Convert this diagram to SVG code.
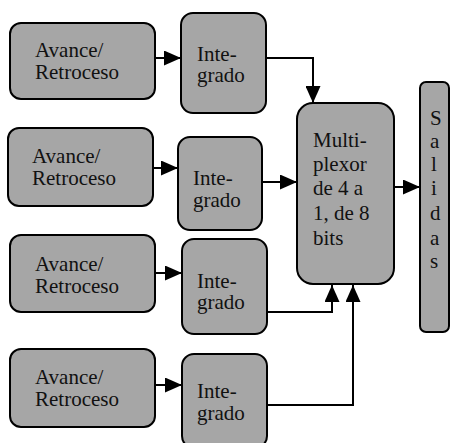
<svg xmlns="http://www.w3.org/2000/svg" width="451" height="443" viewBox="0 0 451 443">
<defs>
<marker id="ah" viewBox="0 0 17 15" refX="17" refY="7.5" markerWidth="17" markerHeight="15" markerUnits="userSpaceOnUse" orient="auto">
<path d="M0,0 L17,7.5 L0,15 Z" fill="#000"/>
</marker>
</defs>
<rect width="451" height="443" fill="#fff"/>
<g id="connectors" fill="none" stroke="#000" stroke-width="2" marker-end="url(#ah)">
<path d="M155,58 H181"/>
<path d="M266,58 H313 V103"/>
<path d="M153,168 H178"/>
<path d="M262,182 H297"/>
<path d="M155,273 H182"/>
<path d="M267,312 H332 V285"/>
<path d="M155,385 H182"/>
<path d="M267,405 H353 V285"/>
<path d="M394,187 H420"/>
</g>
<g font-family="Liberation Serif, Times New Roman, serif" font-size="21">
<g id="avance1"><rect fill="#a6a6a6" stroke="#000" stroke-width="2" x="10" y="23" width="145" height="76" rx="11"/><text fill="#111" x="35" y="57">Avance/</text><text fill="#111" x="35" y="79">Retroceso</text></g>
<g id="integrado1"><rect fill="#a6a6a6" stroke="#000" stroke-width="2" x="181" y="13" width="85" height="100" rx="12"/><text fill="#111" x="197" y="61">Inte-</text><text fill="#111" x="197" y="82">grado</text></g>
<g id="avance2"><rect fill="#a6a6a6" stroke="#000" stroke-width="2" x="8" y="128" width="145" height="78" rx="11"/><text fill="#111" x="32" y="163">Avance/</text><text fill="#111" x="32" y="185">Retroceso</text></g>
<g id="integrado2"><rect fill="#a6a6a6" stroke="#000" stroke-width="2" x="178" y="137" width="84" height="93" rx="12"/><text fill="#111" x="193" y="185">Inte-</text><text fill="#111" x="193" y="207">grado</text></g>
<g id="avance3"><rect fill="#a6a6a6" stroke="#000" stroke-width="2" x="10" y="235" width="145" height="77" rx="11"/><text fill="#111" x="35" y="271">Avance/</text><text fill="#111" x="35" y="293">Retroceso</text></g>
<g id="integrado3"><rect fill="#a6a6a6" stroke="#000" stroke-width="2" x="182" y="239" width="85" height="95" rx="12"/><text fill="#111" x="197" y="288">Inte-</text><text fill="#111" x="197" y="309">grado</text></g>
<g id="avance4"><rect fill="#a6a6a6" stroke="#000" stroke-width="2" x="10" y="349" width="145" height="78" rx="11"/><text fill="#111" x="35" y="384">Avance/</text><text fill="#111" x="35" y="406">Retroceso</text></g>
<g id="integrado4"><rect fill="#a6a6a6" stroke="#000" stroke-width="2" x="182" y="354" width="85" height="94" rx="12"/><text fill="#111" x="197" y="398">Inte-</text><text fill="#111" x="197" y="420">grado</text></g>
<g id="multiplexor"><rect fill="#a6a6a6" stroke="#000" stroke-width="2" x="297" y="103" width="97" height="181" rx="16"/>
<text fill="#111" x="313" y="147">Multi-</text><text fill="#111" x="313" y="171">plexor</text><text fill="#111" x="313" y="195">de 4 a</text><text fill="#111" x="313" y="220">1, de 8</text><text fill="#111" x="313" y="245">bits</text></g>
<g id="salidas"><rect fill="#a6a6a6" stroke="#000" stroke-width="2" x="420" y="82" width="29" height="250" rx="6"/>
<text fill="#111" x="430" y="125">S</text><text fill="#111" x="430" y="148">a</text><text fill="#111" x="431" y="171">l</text><text fill="#111" x="431" y="195">i</text><text fill="#111" x="430" y="220">d</text><text fill="#111" x="430" y="245">a</text><text fill="#111" x="430" y="268">s</text></g>
</g>
</svg>
